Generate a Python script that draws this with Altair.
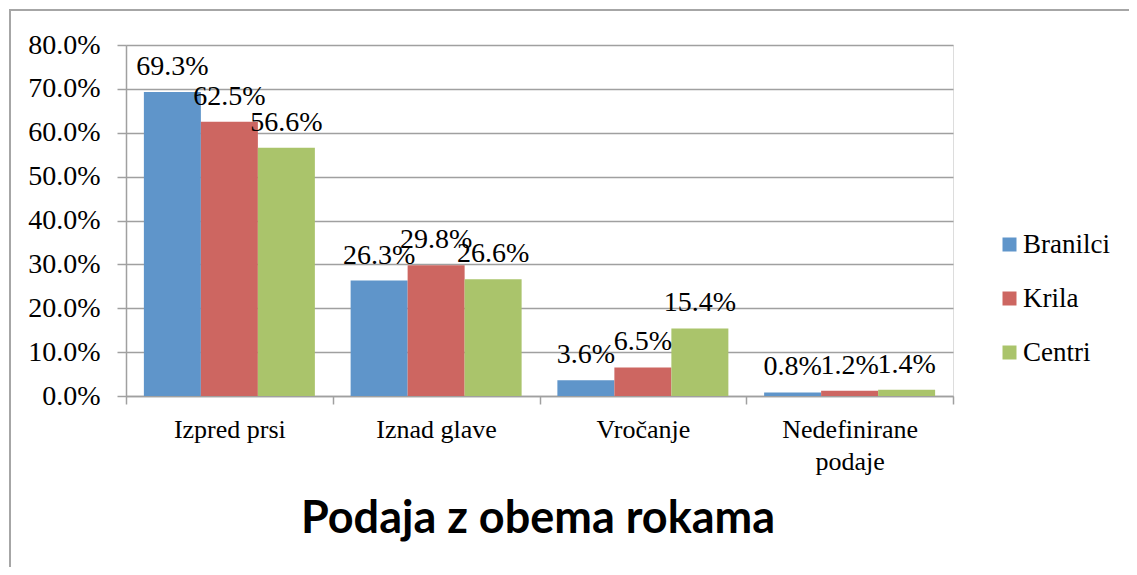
import altair as alt
import pandas as pd

categories = ["Izpred prsi", "Iznad glave", "Vročanje", "Nedefinirane podaje"]
series = ["Branilci", "Krila", "Centri"]
branilci = [69.3, 26.3, 3.6, 0.8]
krila = [62.5, 29.8, 6.5, 1.2]
centri = [56.6, 26.6, 15.4, 1.4]
colors = ["#5f95ca", "#cd6661", "#aac46b"]
title_text = "Podaja z obema rokama"

rows = []
for name, vals in zip(series, [branilci, krila, centri]):
    for c, v in zip(categories, vals):
        rows.append({"cat": c, "series": name, "value": v / 100.0})
df = pd.DataFrame(rows)

serif = "Liberation Serif"
gray = "#a0a0a0"

x = alt.X(
    "cat:N",
    sort=categories,
    scale=alt.Scale(paddingInner=0, paddingOuter=0),
    axis=alt.Axis(
        title=None,
        labelAngle=0,
        labelFont=serif,
        labelFontSize=26,
        labelColor="#000000",
        labelPadding=12,
        labelLineHeight=32,
        labelExpr="datum.value == 'Nedefinirane podaje' ? ['Nedefinirane', 'podaje'] : datum.value",
        tickBand="extent",
        tickSize=8,
        tickColor=gray,
        tickWidth=1.5,
        domainColor=gray,
        domainWidth=1.5,
        grid=False,
    ),
)
xo = alt.XOffset("series:N", sort=series, scale=alt.Scale(paddingInner=0, paddingOuter=0.3137))
y = alt.Y(
    "value:Q",
    scale=alt.Scale(domain=[0, 0.8], nice=False),
    axis=alt.Axis(
        title=None,
        format=".1%",
        values=[0, 0.1, 0.2, 0.3, 0.4, 0.5, 0.6, 0.7, 0.8],
        labelFont=serif,
        labelFontSize=28,
        labelColor="#000000",
        labelPadding=17,
        tickSize=9,
        tickColor=gray,
        tickWidth=1.5,
        domainColor=gray,
        domainWidth=1.5,
        gridColor=gray,
        gridWidth=1.5,
    ),
)
color = alt.Color(
    "series:N",
    sort=series,
    scale=alt.Scale(domain=series, range=colors),
    legend=alt.Legend(
        title=None,
        orient="none",
        legendX=870,
        legendY=186,
        padding=0,
        symbolType="square",
        symbolSize=196,
        symbolStrokeWidth=0,
        symbolOpacity=1,
        labelFont=serif,
        labelFontSize=27,
        labelColor="#000000",
        labelOffset=0,
        rowPadding=26,
    ),
)

frame = alt.Chart(pd.DataFrame({"a": [0]})).mark_rect(
    fillOpacity=0, stroke="#a6a6a6", strokeWidth=2
).encode(
    x=alt.value(-116), x2=alt.value(1300), y=alt.value(-35), y2=alt.value(800)
)

bars = alt.Chart(df).mark_bar(opacity=1).encode(x=x, xOffset=xo, y=y, color=color)

labels = alt.Chart(df).mark_text(
    font=serif, fontSize=28, color="#000000", baseline="bottom", dy=-11
).encode(x=x, xOffset=xo, y=y, text=alt.Text("value:Q", format=".1%"))

title = alt.Chart(pd.DataFrame({"t": [title_text]})).mark_text(
    font="Lato", fontSize=45, fontWeight="bold", color="#000000",
    align="center", baseline="alphabetic"
).encode(x=alt.value(412), y=alt.value(488), text="t:N")

chart = (
    alt.layer(frame, bars, labels, title)
    .properties(
        width=827,
        height=351,
        padding={"left": 118, "top": 37, "right": 176, "bottom": 171},
        autosize=alt.AutoSizeParams(type="none"),
    )
    .configure_view(stroke=None)
    .configure(background="#ffffff")
)

chart.save("out.html", embed_options={"renderer": "svg", "actions": False})
